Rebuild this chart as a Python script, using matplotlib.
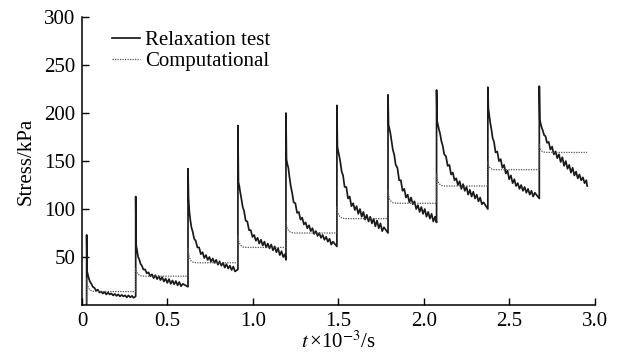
import numpy as np
import matplotlib
matplotlib.use('Agg')
import matplotlib.pyplot as plt

plt.rcParams['font.family'] = ['Liberation Serif', 'DejaVu Serif']
plt.rcParams['mathtext.fontset'] = 'stix'

# step start times (x10^3 s) and end of test
step_start = [0.027, 0.314, 0.62, 0.912, 1.193, 1.491, 1.79, 2.074, 2.374, 2.675]
t_end = 2.955

# relaxation test: time offsets within a step, first value is the spike peak
rel_dt = [0.0, 0.003, 0.008, 0.014, 0.02, 0.028, 0.036, 0.045, 0.055, 0.065,
          0.075, 0.085, 0.095, 0.105, 0.115, 0.125, 0.135, 0.145, 0.155, 0.165,
          0.175, 0.185, 0.195, 0.205, 0.215, 0.225, 0.235, 0.245, 0.255, 0.265,
          0.275, 0.283]
s1 = [73, 35, 31, 27, 24, 22, 19, 18, 15, 16, 13, 14, 12, 13.5, 11, 13, 11, 12,
      10, 11.5, 9.5, 11, 9, 10.5, 9, 10, 8, 10, 8, 9.5, 7.5, 9]
s2 = [113, 62, 57, 50, 48, 43, 41, 37, 37, 33, 34, 30, 32, 28, 31, 27, 30, 26,
      29, 24.5, 27.5, 23, 27, 22, 25.5, 21.5, 25, 20.5, 24, 19.5, 22, 19]
s3 = [142, 112, 97, 88, 81, 76, 69, 67, 60, 60, 53, 55, 49, 52, 47, 50, 45, 48.5,
      44, 47, 42, 45.5, 41, 44, 39, 42.5, 38, 41, 36.5, 40, 35, 37]
s4 = [187, 128, 124, 117, 111, 102, 98, 88, 87, 78, 78, 71, 73, 67, 70, 64, 68, 62,
      66, 60, 64, 59, 63, 57, 61, 55, 59, 52, 56, 50, 53, 47]
s5 = [200, 152, 147, 143, 134, 124, 117, 107, 106, 96, 97, 89, 91, 84, 86, 80, 83,
      77, 80, 74, 77, 72, 75, 70, 73, 68, 71, 66, 69, 63, 66, 61]
s6 = [208, 165, 160, 155, 149, 139, 135, 123, 123, 111, 113, 103, 106, 99, 103, 95,
      100, 92, 97, 89, 94, 87, 92, 85, 90, 82, 88, 80, 85, 77, 81, 75]
s7 = [219, 188, 184, 179, 172, 162, 157, 146, 143, 130, 130, 119, 121, 112, 115,
      107, 112, 105, 108, 100, 104, 97, 102, 95, 100, 92, 97, 90, 95, 87, 92, 86]
s8 = [224, 192, 188, 183, 179, 171, 166, 157, 155, 145, 146, 136, 138, 130, 132,
      125, 129, 121, 126, 119, 123, 115, 120, 113, 118, 111, 115, 108, 112, 105,
      107, 100]
s9 = [227, 205, 198, 190, 184, 174, 170, 159, 160, 150, 152, 143, 146, 137, 140,
      131, 135, 127, 131, 124, 127, 121, 125, 119, 123, 117, 121, 115, 119, 113,
      117, 111]
s10 = [228, 193, 189, 185, 182, 177, 176, 169, 170, 162, 165, 157, 160, 153, 157,
       149, 154, 145, 150, 142, 146, 138, 143, 135, 139, 132, 136, 130, 133, 127,
       130, 124]
test_steps = [s1, s2, s3, s4, s5, s6, s7, s8, s9, s10]

# computational: overshoot then settle to a plateau
comp_dt = [0.0, 0.004, 0.01, 0.018, 0.03, 0.05]
c1 = [28, 22, 18, 16, 14.5, 14]
c2 = [38, 35, 33, 31.5, 30.5, 30]
c3 = [59, 53, 49, 46, 44.5, 44]
c4 = [72, 67, 64, 62, 60.5, 60]
c5 = [87, 82, 79, 77, 75.5, 75]
c6 = [102, 97, 94, 92, 90.5, 90]
c7 = [120, 114, 110, 108, 106.5, 106]
c8 = [137, 131, 128, 126, 124.5, 124]
c9 = [150, 146, 143.5, 142, 141.3, 141]
c10 = [167, 163, 161, 160, 159.3, 159]
comp_steps = [c1, c2, c3, c4, c5, c6, c7, c8, c9, c10]

ends = step_start[1:] + [t_end]

# build test curve
tt, ss = [step_start[0]], [0]
for k, vals in enumerate(test_steps):
    if k > 0:
        tt.append(step_start[k]); ss.append(ss[-1])
    times = [step_start[k] + d for d in rel_dt]
    times[-1] = ends[k]
    tt += times
    ss += vals

# build computational curve
tc, sc = [step_start[0]], [0]
for k, vals in enumerate(comp_steps):
    if k > 0:
        tc.append(step_start[k]); sc.append(sc[-1])
    tc += [step_start[k] + d for d in comp_dt] + [ends[k]]
    sc += vals + [vals[-1]]

fig = plt.figure(figsize=(6.19, 3.57), dpi=100)
ax = fig.add_axes([0.1325, 0.1457, 0.8285, 0.8063])

ax.plot(tt, ss, color='#1a1a1a', lw=1.25, label='Relaxation test')
ax.plot(tc, sc, color='#555555', lw=0.9, ls=(0, (1, 1)), label='Computational')

ax.set_xlim(0, 3.0)
ax.set_ylim(0, 300)
ax.set_xticks([0, 0.5, 1.0, 1.5, 2.0, 2.5, 3.0])
ax.set_xticklabels(['0', '0.5', '1.0', '1.5', '2.0', '2.5', '3.0'])
ax.set_yticks([50, 100, 150, 200, 250, 300])
ax.tick_params(direction='in', length=5, width=1, labelsize=15, pad=5)
for side in ['top', 'right']:
    ax.spines[side].set_visible(False)
for side in ['left', 'bottom']:
    ax.spines[side].set_linewidth(1.1)

ax.set_ylabel('Stress/kPa', fontsize=15, labelpad=6)
ax.set_xlabel(r'$t\,$×10$^{-3}$/s', fontsize=15, labelpad=0)

ax.legend(loc='upper left', bbox_to_anchor=(0.0585, 0.954), frameon=False,
          fontsize=15, handlelength=1.35, handletextpad=0.25, labelspacing=0.08,
          borderpad=0, borderaxespad=0)

fig.savefig('out.png', dpi=100)
